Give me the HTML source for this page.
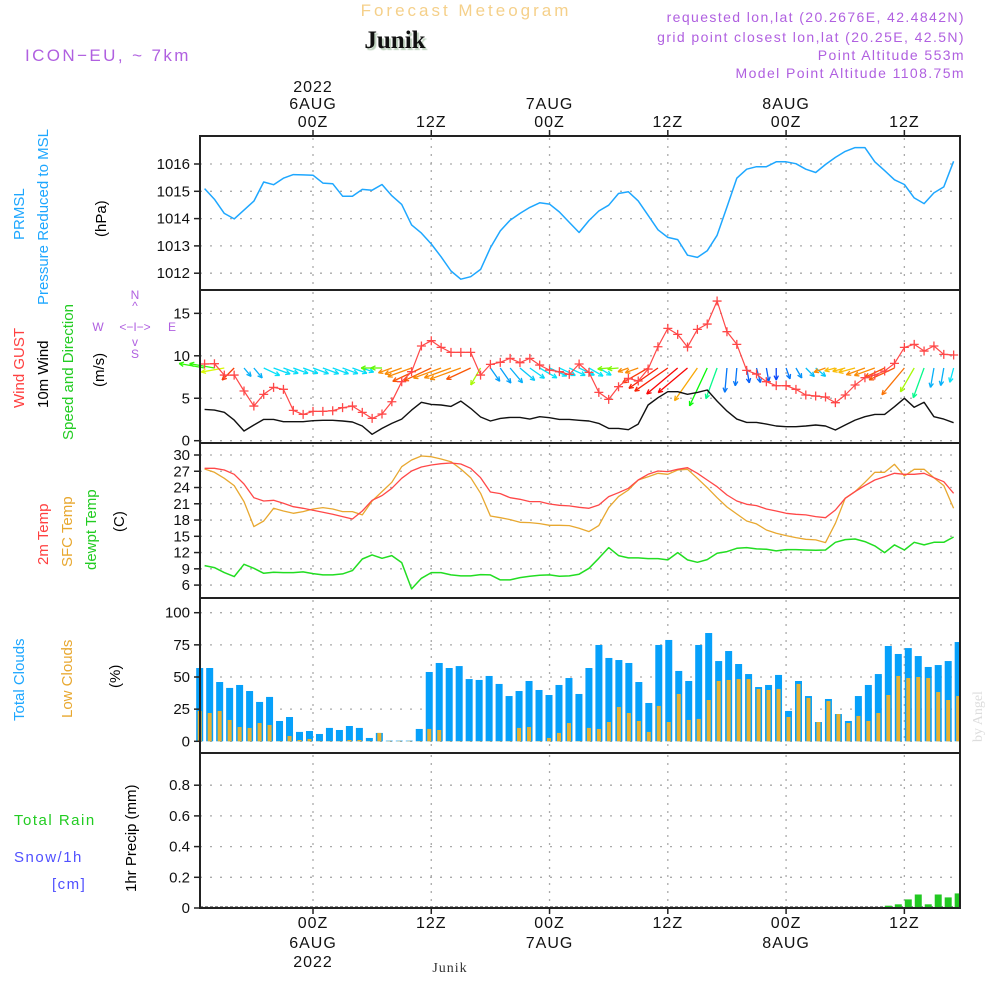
<!DOCTYPE html>
<html><head><meta charset="utf-8">
<style>
html,body{margin:0;padding:0;background:#fff;}
svg{display:block;font-family:"Liberation Sans",sans-serif;}
</style></head>
<body>
<svg id="chart" width="1000" height="1000" viewBox="0 0 1000 1000" xmlns="http://www.w3.org/2000/svg">
  <text x="466" y="16" text-anchor="middle" font-size="17" letter-spacing="3" fill="#f5d08a">Forecast Meteogram</text>
  <text x="395" y="48" text-anchor="middle" font-size="25" font-weight="bold" font-family="Liberation Serif, serif" fill="#111" style="text-shadow:2px 2px 1px #bcd0bc">Junik</text>
  <text x="25" y="61" font-size="17" letter-spacing="2.4" fill="#b060e0">ICON−EU, ~ 7km</text>
  <g font-size="14" letter-spacing="1.4" fill="#b060e0" text-anchor="end">
    <text x="965" y="22">requested lon,lat (20.2676E, 42.4842N)</text>
    <text x="965" y="42">grid point closest lon,lat (20.25E, 42.5N)</text>
    <text x="965" y="60">Point Altitude 553m</text>
    <text x="965" y="78">Model Point Altitude 1108.75m</text>
  </g>
  <text transform="translate(982,742) rotate(-90)" font-size="14" font-family="Liberation Serif, serif" fill="#ddd">by Angel</text>
  <text x="450" y="972" text-anchor="middle" font-size="14" font-family="Liberation Serif, serif" letter-spacing="1" fill="#333">Junik</text>

  <g font-size="15">
    <text transform="translate(24,240) rotate(-90)" fill="#1ea7ff">PRMSL</text>
    <text transform="translate(48,305) rotate(-90)" fill="#1ea7ff">Pressure Reduced to MSL</text>
    <text transform="translate(106,237) rotate(-90)" fill="#000">(hPa)</text>
  </g>
  <g font-size="15">
    <text transform="translate(24,408) rotate(-90)" fill="#ff4040">Wind GUST</text>
    <text transform="translate(48,408) rotate(-90)" fill="#000">10m Wind</text>
    <text transform="translate(73,440) rotate(-90)" fill="#22cc22">Speed and Direction</text>
    <text transform="translate(104,387) rotate(-90)" fill="#000">(m/s)</text>
  </g>
  <g font-size="12" fill="#b060e0" text-anchor="middle">
    <text x="135" y="299">N</text><text x="135" y="310">^</text>
    <text x="98" y="331">W</text><text x="135" y="331">&lt;−I−&gt;</text><text x="172" y="331">E</text>
    <text x="135" y="346">v</text><text x="135" y="358">S</text>
  </g>
  <g font-size="15">
    <text transform="translate(48,565) rotate(-90)" fill="#ff4040">2m Temp</text>
    <text transform="translate(72,567) rotate(-90)" fill="#e8a830">SFC Temp</text>
    <text transform="translate(96,570) rotate(-90)" fill="#22cc22">dewpt Temp</text>
    <text transform="translate(124,532) rotate(-90)" fill="#000">(C)</text>
  </g>
  <g font-size="15">
    <text transform="translate(24,721) rotate(-90)" fill="#1ea7ff">Total Clouds</text>
    <text transform="translate(72,718) rotate(-90)" fill="#e8a830">Low Clouds</text>
    <text transform="translate(120,688) rotate(-90)" fill="#000">(%)</text>
  </g>
  <g font-size="15">
    <text x="14" y="825" fill="#22cc22" letter-spacing="1.5">Total  Rain</text>
    <text x="14" y="862" fill="#5050ff" letter-spacing="1.5">Snow/1h</text>
    <text x="52" y="889" fill="#5050ff" letter-spacing="1.5">[cm]</text>
    <text transform="translate(136,892) rotate(-90)" fill="#000">1hr Precip (mm)</text>
  </g>

  <g id="grid"></g>
  <g id="marks"></g>
  <g id="frames"></g>
  <g id="labels"></g>
</svg>
<script>
const pressure = [1015.10,1014.71,1014.19,1013.99,1014.31,1014.64,1015.34,1015.24,1015.48,1015.61,1015.60,1015.59,1015.30,1015.28,1014.82,1014.82,1015.07,1015.04,1015.25,1014.84,1014.52,1013.77,1013.47,1013.07,1012.60,1012.08,1011.78,1011.87,1012.14,1012.93,1013.55,1013.94,1014.19,1014.41,1014.58,1014.53,1014.24,1013.86,1013.49,1013.93,1014.28,1014.49,1014.92,1014.98,1014.65,1014.12,1013.59,1013.31,1013.23,1012.66,1012.58,1012.82,1013.39,1014.43,1015.48,1015.81,1015.90,1015.90,1016.08,1016.08,1016.01,1015.81,1015.69,1015.98,1016.24,1016.46,1016.60,1016.60,1016.08,1015.76,1015.42,1015.25,1014.76,1014.55,1014.94,1015.16,1016.10];
const gust = [9.03,9.07,7.73,7.73,5.85,4.08,5.46,6.28,6.05,3.57,3.10,3.45,3.45,3.53,3.89,4.08,3.34,2.63,3.14,4.59,6.95,8.13,11.15,11.78,10.99,10.40,10.40,10.40,7.73,8.99,9.23,9.70,9.19,9.70,8.91,8.32,8.13,7.81,9.03,8.05,5.69,4.87,6.36,7.34,7.03,8.44,11.07,13.23,12.52,11.03,13.11,13.74,16.45,12.84,11.35,8.28,7.85,6.95,6.48,6.48,6.05,5.38,5.26,5.14,4.48,5.38,6.56,7.42,7.73,8.21,9.11,10.99,11.35,10.56,11.15,10.17,10.09];
const wind10 = [3.69,3.61,3.34,2.43,1.14,1.85,2.51,2.51,2.24,2.24,2.24,2.36,2.40,2.40,2.32,2.20,1.73,0.75,1.45,2.04,2.55,3.61,4.52,4.28,4.20,4.04,4.67,3.81,2.79,2.32,2.63,2.75,2.75,2.55,2.83,2.71,2.51,2.51,2.40,2.32,2.04,1.45,1.45,1.30,1.96,4.20,5.06,5.77,5.77,5.46,5.69,5.97,4.67,3.49,2.55,2.16,2.16,1.96,1.73,1.65,1.65,1.73,1.85,1.73,1.26,1.85,2.43,2.83,3.10,3.10,4.00,4.99,3.93,4.52,2.83,2.55,2.12];
const windDirTo = [190,190,170,135,50,50,25,20,20,20,20,20,20,20,20,20,20,180,180,160,160,160,155,155,160,160,160,155,120,55,55,50,40,35,30,25,25,25,25,30,30,175,175,160,160,150,145,145,140,140,125,115,110,95,95,80,75,80,90,70,60,45,40,160,165,165,165,160,160,155,155,130,120,110,100,100,105];
const temp2m = [27.54,27.54,27.23,26.43,24.65,22.13,21.52,21.64,21.09,20.47,20.17,19.80,19.43,19.06,18.63,18.20,19.67,21.64,22.50,23.85,25.70,27.05,27.79,28.16,28.40,28.52,28.34,27.54,25.82,23.18,22.87,22.13,21.83,21.40,21.40,20.96,20.72,20.60,20.35,20.17,20.78,22.32,23.05,23.85,25.39,26.43,27.05,26.93,27.36,27.66,26.62,25.39,24.16,22.62,21.52,20.90,20.66,20.04,19.67,19.24,19.06,18.94,18.63,18.44,19.86,22.01,23.24,24.35,25.39,26.00,26.62,26.43,26.43,26.62,25.82,25.08,22.93];
const tempSfc = [27.42,26.80,25.70,24.35,21.40,16.79,17.83,20.17,19.67,19.24,19.55,20.04,20.29,20.04,19.55,19.55,18.94,21.52,23.24,24.96,27.85,29.08,29.82,29.69,29.26,28.77,27.42,25.82,22.93,18.75,18.44,18.08,17.58,17.52,17.34,17.03,17.03,16.97,16.48,15.86,16.97,20.29,22.32,23.55,25.39,26.00,26.62,26.43,27.23,27.36,25.70,23.98,22.13,20.41,19.12,17.83,17.28,16.17,15.56,15.13,14.76,14.45,14.33,13.84,17.40,22.01,23.24,24.96,26.80,26.80,28.28,26.13,27.36,27.36,25.82,24.35,20.17];
const dewpt = [9.59,9.23,8.30,7.57,9.84,9.10,8.18,8.37,8.30,8.30,8.43,8.12,7.87,7.87,8.06,8.67,10.82,11.56,10.95,11.44,10.15,5.29,7.26,8.30,8.30,7.87,7.69,7.69,7.93,7.87,6.95,6.95,7.38,7.63,7.81,7.87,7.63,7.69,8.00,9.10,10.95,12.91,11.44,11.01,11.01,10.89,10.89,10.64,11.99,10.64,10.21,10.70,11.87,12.18,12.79,12.91,12.67,12.61,12.30,12.55,12.55,12.48,12.42,12.48,13.90,14.39,14.51,14.02,13.22,11.99,13.41,12.48,13.90,13.41,13.90,13.90,14.88];
const totalClouds = [57.0,57.0,46.1,41.5,43.8,39.1,30.6,34.5,15.8,18.9,7.3,8.0,5.7,10.4,8.8,11.9,10.4,2.6,6.5,0.5,0.5,0.5,9.6,53.9,60.9,57.0,58.5,48.4,47.7,50.8,44.6,35.2,39.1,46.9,39.9,36.0,43.8,49.2,36.8,57.0,74.9,64.8,63.2,60.9,46.1,29.8,74.9,78.8,54.7,46.9,74.9,84.2,62.4,70.2,60.1,52.3,42.2,43.8,51.6,23.6,46.9,35.2,15.0,32.9,21.2,15.8,35.2,43.8,52.3,74.1,67.9,72.5,66.3,57.8,59.3,62.4,77.2];
const lowClouds = [23.6,22.0,23.6,16.6,11.1,10.4,14.2,12.7,0.3,4.1,1.0,1.8,0.3,0.3,0.3,1.0,1.0,0.3,6.5,0.3,0.3,0.3,0.3,9.6,8.8,0.3,0.3,0.3,0.3,0.3,0.3,0.3,10.4,11.1,0.3,2.6,6.5,14.2,0.3,10.4,9.6,15.0,26.7,22.0,15.8,7.3,27.5,15.0,36.8,16.6,17.4,32.1,46.9,47.7,48.4,48.4,40.7,39.9,40.7,18.9,44.6,33.7,15.0,31.3,21.2,14.2,19.7,15.8,22.0,36.0,50.8,49.2,50.0,49.2,38.3,32.1,35.2];
const precip = [0,0,0,0,0,0,0,0,0,0,0,0,0,0,0,0,0,0,0,0,0,0,0,0,0,0,0,0,0,0,0,0,0,0,0,0,0,0,0,0,0,0,0,0,0,0,0,0,0,0,0,0,0,0,0,0,0,0,0,0,0,0,0,0,0,0,0,0,0.003,0.015,0.024,0.056,0.088,0.024,0.088,0.069,0.095];
const pressureTicks = [1012,1013,1014,1015,1016];
const windTicks = [0,5,10,15];
const tempTicks = [6,9,12,15,18,21,24,27,30];
const cloudTicks = [0,25,50,75,100];
const precipTicks = [0,0.2,0.4,0.6,0.8];
const timeTickHours = [0,12,24,36,48,60];
const timeTickLabels = ["00Z","12Z","00Z","12Z","00Z","12Z"];
const dayLabels = ["6AUG","","7AUG","","8AUG",""];
const firstHour = -11;

const X0 = 200, X1 = 960;
const xHour = h => 313 + h * 9.856;
const xPt = i => xHour(firstHour + i);
const xBar = i => 199.7 + i * 9.98;
const panels = {
  p: {top:136, bot:290, y: v => 164 + (1016 - v) * 27.3},
  w: {top:290, bot:443, y: v => 440.7 - v * 8.49},
  t: {top:443, bot:598, y: v => 455 + (30 - v) * 5.42},
  c: {top:598, bot:753, y: v => 741.3 - v * 1.286},
  r: {top:753, bot:908, y: v => 908 - v * 153.5}
};
const NS = "http://www.w3.org/2000/svg";
function mk(parent, tag, attrs){
  const e = document.createElementNS(NS, tag);
  for (const k in attrs) e.setAttribute(k, attrs[k]);
  parent.appendChild(e); return e;
}
const gGrid = document.getElementById('grid');
const gMarks = document.getElementById('marks');
const gFrames = document.getElementById('frames');
const gLabels = document.getElementById('labels');

function axisPanel(key, ticks, fmt, name){
  const P = panels[key];
  ticks.forEach(v => {
    const y = P.y(v);
    const gl = mk(gGrid,'line',{x1:X0,x2:X1,y1:y,y2:y,stroke:'#aaa','stroke-width':1.3,'stroke-dasharray':'2 8'});
    
    
    mk(gFrames,'line',{x1:X0-6,x2:X0,y1:y,y2:y,stroke:'#222','stroke-width':1.5});
    const t = mk(gLabels,'text',{x:X0-10,y:y+5,'text-anchor':'end','font-size':15,fill:'#111'});
    t.textContent = fmt(v);
    
    
  });
  timeTickHours.forEach(h => {
    const x = xHour(h);
    mk(gGrid,'line',{x1:x,x2:x,y1:P.top+2,y2:P.bot-2,stroke:'#aaa','stroke-width':1.3,'stroke-dasharray':'2 6'});
  });
  const r = mk(gFrames,'rect',{x:X0,y:P.top,width:X1-X0,height:P.bot-P.top,fill:'none',stroke:'#222','stroke-width':2});
  
  
}
axisPanel('p', pressureTicks, v => String(v), 'pressure');
axisPanel('w', windTicks, v => String(v), 'wind');
axisPanel('t', tempTicks, v => String(v), 'temp');
axisPanel('c', cloudTicks, v => String(v), 'cloud');
axisPanel('r', precipTicks, v => v === 0 ? '0' : v.toFixed(1), 'precip');

timeTickHours.forEach((h, k) => {
  const x = xHour(h);
  mk(gFrames,'line',{x1:x,x2:x,y1:panels.p.top-6,y2:panels.p.top,stroke:'#222','stroke-width':1.5});
  mk(gFrames,'line',{x1:x,x2:x,y1:panels.r.bot,y2:panels.r.bot+6,stroke:'#222','stroke-width':1.5});
  const t1 = mk(gLabels,'text',{x:x,y:127,'text-anchor':'middle','font-size':16,fill:'#111','letter-spacing':1});
  t1.textContent = timeTickLabels[k];
  
  
  const t2 = mk(gLabels,'text',{x:x,y:928,'text-anchor':'middle','font-size':16,fill:'#111','letter-spacing':1});
  t2.textContent = timeTickLabels[k];
  
  
  if (dayLabels[k]) {
    const d1 = mk(gLabels,'text',{x:x,y:109,'text-anchor':'middle','font-size':16,fill:'#111','letter-spacing':1});
    d1.textContent = dayLabels[k];
    
    
    const d2 = mk(gLabels,'text',{x:x,y:948,'text-anchor':'middle','font-size':16,fill:'#111','letter-spacing':1});
    d2.textContent = dayLabels[k];
    
    
  }
});
const yr1 = mk(gLabels,'text',{x:xHour(0),y:92,'text-anchor':'middle','font-size':16,fill:'#111','letter-spacing':1});
yr1.textContent = '2022';


const yr2 = mk(gLabels,'text',{x:xHour(0),y:967,'text-anchor':'middle','font-size':16,fill:'#111','letter-spacing':1});
yr2.textContent = '2022';



function line(arr, key, color, name, w){
  const P = panels[key];
  const d = arr.map((v,i) => (i?'L':'M') + xPt(i).toFixed(1) + ',' + P.y(v).toFixed(1)).join(' ');
  const p = mk(gMarks,'path',{d:d,fill:'none',stroke:color,'stroke-width':w||1.5,'stroke-linejoin':'round'});
  
  
}

totalClouds.forEach((v,i) => {
  const y = panels.c.y(v), x = xBar(i);
  const r = mk(gMarks,'rect',{x:x-3.5,y:y,width:Math.min(7, X1-(x-3.5)),height:panels.c.y(0)-y,fill:'#06a0fa'});
  
  
});
lowClouds.forEach((v,i) => {
  const y = panels.c.y(v), x = xBar(i);
  const r = mk(gMarks,'rect',{x:x-2,y:y,width:4,height:panels.c.y(0)-y,fill:'#e8b030'});
  
  
});
mk(gMarks,'line',{x1:X0,x2:X1,y1:panels.r.y(0)-1,y2:panels.r.y(0)-1,stroke:'#222','stroke-width':1,'stroke-dasharray':'3 2'});
precip.forEach((v,i) => {
  if (v <= 0) return;
  const y = panels.r.y(v), x = xBar(i);
  const r = mk(gMarks,'rect',{x:x-3.5,y:y,width:Math.min(7, X1-(x-3.5)),height:panels.r.y(0)-y,fill:'#22c822'});
  
  
});

line(pressure,'p','#1ea7ff','pressure-line',1.5);
line(tempSfc,'t','#e8a830','sfc-temp-line',1.3);
line(temp2m,'t','#ff4848','temp-2m-line',1.3);
line(dewpt,'t','#22dd22','dewpoint-line',1.5);

const hueStops = [[0,190],[30,185],[60,205],[90,225],[105,185],[115,120],[125,40],[140,0],[155,20],[165,45],[175,90],[190,110]];
function hueFor(d){
  for (let k=1;k<hueStops.length;k++){
    if (d <= hueStops[k][0]) {
      const a = hueStops[k-1], b = hueStops[k];
      return a[1] + (b[1]-a[1]) * (d-a[0])/(b[0]-a[0]);
    }
  }
  return 110;
}
windDirTo.forEach((d,i) => {
  const sp = wind10[i];
  const L = Math.max(11, sp * 7);
  const a = d * Math.PI / 180;
  const x0 = xPt(i), y0 = 368;
  const x1 = x0 + Math.cos(a)*L, y1 = y0 + Math.sin(a)*L;
  const col = 'hsl(' + hueFor(d).toFixed(0) + ',95%,50%)';
  const g = mk(gMarks,'g',{stroke:col,'stroke-width':1.3,fill:'none'});
  
  
  mk(g,'line',{x1:x0,y1:y0,x2:x1,y2:y1});
  const h = 5;
  [0.45,-0.45].forEach(o => {
    mk(g,'line',{x1:x1,y1:y1,x2:x1 - Math.cos(a+o)*h,y2:y1 - Math.sin(a+o)*h});
  });
});
line(wind10,'w','#111','wind-10m-line',1.4);
line(gust,'w','#ff4848','wind-gust-line',1.2);
gust.forEach((v,i) => {
  const x = xPt(i), y = panels.w.y(v);
  const p = mk(gMarks,'path',{d:`M${x-4.5},${y}H${x+4.5}M${x},${y-4.5}V${y+4.5}`,stroke:'#ff4848','stroke-width':1.3});
  
  
});
</script>
</body></html>
